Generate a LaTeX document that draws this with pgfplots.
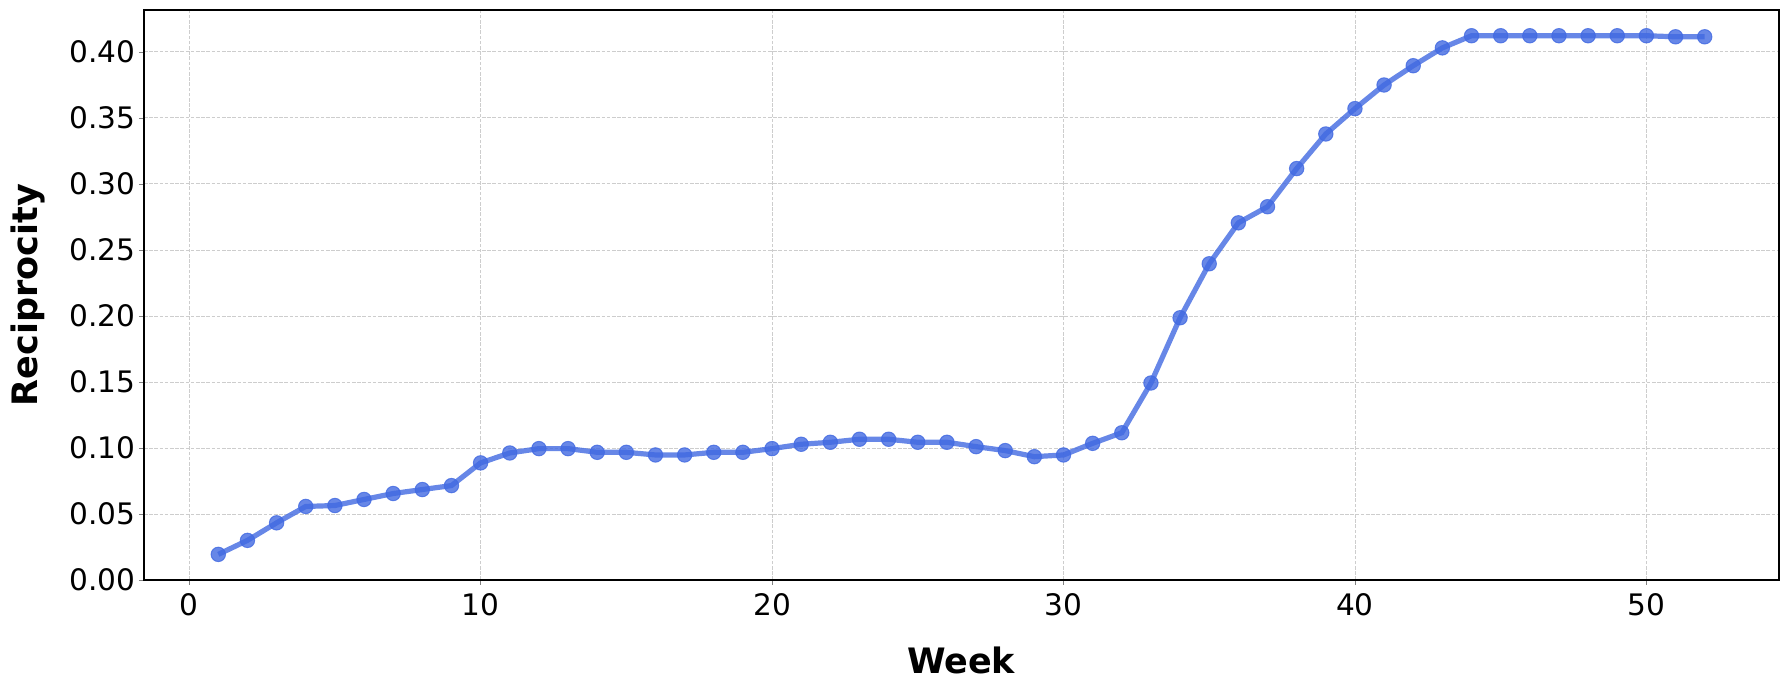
\documentclass[border=0pt]{standalone}
\usepackage{fontspec}
\setmainfont{DejaVu Sans}
\usepackage{pgfplots}
\pgfplotsset{compat=1.18}
\definecolor{royalblue}{RGB}{65,105,225}
\definecolor{gridgray}{RGB}{205,205,205}
\begin{document}
\begin{tikzpicture}
\path[use as bounding box] (-72pt,-55pt) rectangle (823pt,290pt);
\begin{axis}[
  scale only axis,
  width=817.5pt, height=285pt,
  xmin=-1.55, xmax=54.55,
  ymin=0, ymax=0.4317,
  xtick={0,10,20,30,40,50},
  ytick={0,0.05,0.10,0.15,0.20,0.25,0.30,0.35,0.40},
  yticklabel style={/pgf/number format/fixed, /pgf/number format/fixed zerofill, /pgf/number format/precision=2},
  /pgf/number format/assume math mode=true,
  tick label style={font=\fontsize{14.8pt}{17pt}\selectfont},
  tick align=outside,
  major tick length=2.5pt,
  xtick pos=bottom, ytick pos=left,
  xticklabel style={yshift=-0.5pt},
  yticklabel style={xshift=1.8pt},
  grid=major,
  major grid style={draw=gridgray, dash pattern=on 1.8pt off 0.8pt, line width=0.4pt},
  axis line style={line width=0.6pt, black},
  xlabel={\textbf{Week}},
  ylabel={\textbf{Reciprocity}},
  label style={font=\fontsize{17.5pt}{20pt}\selectfont},
  xlabel style={at={(rel axis cs:0.5,0)}, anchor=center, yshift=-40pt},
  ylabel style={at={(rel axis cs:0,0.5)}, anchor=center, yshift=58pt},
]
\addplot[color=royalblue, opacity=0.8, line width=2.6pt, mark=*, mark size=3.6pt,
  mark options={fill=royalblue, draw=royalblue, line width=0.5pt, opacity=0.8}]
coordinates {
(1,0.0194) (2,0.0300) (3,0.0433) (4,0.0557) (5,0.0564) (6,0.0610) (7,0.0655) (8,0.0685)
(9,0.0715) (10,0.0887) (11,0.0962) (12,0.0995) (13,0.0995) (14,0.0967) (15,0.0967)
(16,0.0947) (17,0.0947) (18,0.0967) (19,0.0967) (20,0.0995) (21,0.1028) (22,0.1043)
(23,0.1066) (24,0.1066) (25,0.1043) (26,0.1043) (27,0.1010) (28,0.0980) (29,0.0934)
(30,0.0947) (31,0.1035) (32,0.1115) (33,0.1492) (34,0.1986) (35,0.2395) (36,0.2705)
(37,0.2827) (38,0.3116) (39,0.3378) (40,0.3570) (41,0.3749) (42,0.3895) (43,0.4030)
(44,0.4122) (45,0.4122) (46,0.4122) (47,0.4122) (48,0.4122) (49,0.4122) (50,0.4122)
(51,0.4114) (52,0.4114)
};
\end{axis}
\end{tikzpicture}
\end{document}
